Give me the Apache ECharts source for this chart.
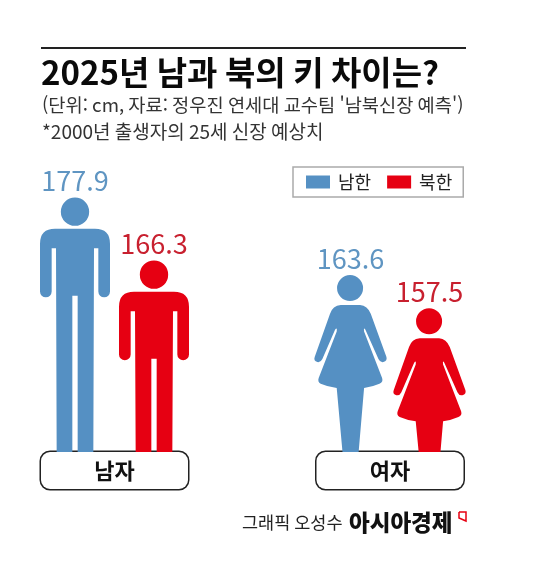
<!DOCTYPE html>
<html lang="ko"><head><meta charset="utf-8">
<style>html,body{margin:0;padding:0;background:#fff}#c{width:549px;height:566px}</style>
<script src="https://cdn.jsdelivr.net/npm/echarts@6/dist/echarts.min.js"></script>
</head><body><div id="c"></div>
<script>
const categories = ['남자', '여자'];
const seriesNames = ['남한', '북한'];
const southValues = [177.9, 163.6];
const northValues = [166.3, 157.5];

const FONT = '"Noto Sans CJK KR","Noto Sans",sans-serif';
const BLUE = '#5590c3', RED = '#e60012';
const AXIS_MIN = 131, AXIS_MAX = 185;
// Figure outlines: fixed head and torso, with the legs running down to the value axis base (b = leg end in glyph units).
const manPath = b => 'M165 113A42.5 42.5 0 1 1 165 198A42.5 42.5 0 1 1 165 113Z' +
  `M105 207L225 207Q270 207 270 252L270 395A17.5 17.5 0 0 1 235 395L235 265L222 265L220 ${b}L173 ${b}L173 408L157 408L157 ${b}L110 ${b}L108 265L95 265L95 395A17.5 17.5 0 0 1 60 395L60 252Q60 207 105 207Z`;
const womanPath = b => {
  const t = (b - 685) * 16 / 188; // leg taper
  return 'M210 346A39 39 0 1 1 210 424A39 39 0 1 1 210 346Z' +
  `M182 436L240 436Q262 438 272 462L319 592Q322 604 310 607Q300 609 295 598L256 510Q250 500 252 515L306 655Q310 668 298 672Q275 682 252 685L${252 - t} ${b}L${171 + t} ${b}L170 685Q145 682 122 672Q112 667 116 655L170 515Q172 500 165 510L127 598Q122 609 112 607Q100 604 104 592L150 462Q158 438 182 436Z`;
};
const shapes = [manPath, womanPath], tops = [113, 346], widths = [70, 72.3], offsets = [-39.5, 39.5];

const mkSeries = (name, values, color, labelColor, side) => ({
  name, type: 'custom', itemStyle: { color },
  encode: { x: 0, y: 1 },
  data: values.map((v, i) => [i, v]),
  renderItem: (params, api) => {
    const i = api.value(0), v = api.value(1);
    const top = api.coord([i, v]);
    const base = api.coord([i, AXIS_MIN]);
    const cx = top[0] + offsets[side], w = widths[i], h = base[1] - top[1];
    return { type: 'group', children: [
      { type: 'path',
        shape: { pathData: shapes[i](tops[i] + h * 3), layout: 'cover', x: cx - w / 2, y: top[1], width: w, height: h },
        style: { fill: color } },
      { type: 'text',
        style: { x: cx, y: top[1] - 3, text: v.toFixed(1), align: 'center', verticalAlign: 'bottom', fill: labelColor, font: '400 27px ' + FONT } }
    ] };
  }
});

const titleStyle = (size, weight, color) => ({ fontFamily: FONT, fontSize: size, fontWeight: weight, color });
const chart = echarts.init(document.getElementById('c'), null, { renderer: 'canvas' });
chart.setOption({
  animation: false,
  backgroundColor: '#fff',
  title: [
    { text: '2025년 남과 북의 키 차이는?', left: 41, top: 56, padding: 0, textStyle: titleStyle(33, 700, '#0a0a0a') },
    { text: "(단위: cm, 자료: 정우진 연세대 교수팀 '남북신장 예측')", left: 42, top: 96, padding: 0, textStyle: titleStyle(18.7, 400, '#333') },
    { text: '*2000년 출생자의 25세 신장 예상치', left: 42, top: 122, padding: 0, textStyle: titleStyle(19, 400, '#333') },
    { text: '그래픽 오성수', left: 242, top: 514, padding: 0, textStyle: titleStyle(17.5, 400, '#222') },
    { text: '아시아경제', left: 349, top: 511, padding: 0, textStyle: titleStyle(22.5, 900, '#111') }
  ],
  legend: {
    data: seriesNames, left: 293, top: 167, padding: [6, 11, 6, 13], itemGap: 16,
    icon: 'rect', itemWidth: 24, itemHeight: 13, borderColor: '#aaa', borderWidth: 1.5,
    textStyle: { fontFamily: FONT, fontSize: 18, color: '#222', padding: [0, 0, 0, 3] }
  },
  grid: { left: -23.25, width: 551, top: 159, height: 293, outerBoundsMode: 'none' },
  xAxis: {
    type: 'category', data: categories,
    axisLine: { show: false }, axisTick: { show: false },
    axisLabel: {
      margin: 0, width: 147, height: 37, lineHeight: 37, align: 'center',
      overflow: 'none', fontFamily: FONT, fontSize: 22, fontWeight: 600, color: '#111',
      backgroundColor: '#fff', borderColor: '#222', borderWidth: 1.5, borderRadius: 9
    }
  },
  yAxis: { type: 'value', min: AXIS_MIN, max: AXIS_MAX, show: false, splitLine: { show: false } },
  series: [
    mkSeries(seriesNames[0], southValues, BLUE, '#5f95c2', 0),
    mkSeries(seriesNames[1], northValues, RED, '#c8202f', 1)
  ],
  graphic: [
    { type: 'line', z: 10, shape: { x1: 41, y1: 48, x2: 466, y2: 48 }, style: { stroke: '#222', lineWidth: 2 } },
    { type: 'polyline', z: 10, shape: { points: [[459, 512], [466, 512], [466, 521], [459, 518], [459, 512]] }, style: { stroke: RED, lineWidth: 1.5, fill: '#fff' } }
  ]
});
</script></body></html>
